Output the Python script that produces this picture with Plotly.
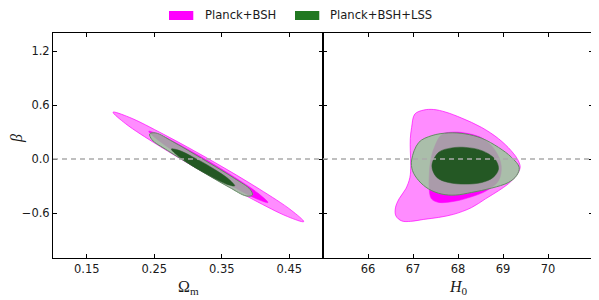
import plotly.graph_objects as go

# ---------------- data (contour boundaries) ----------------
# Left panel: Omega_m vs beta
OM_BSH95_X = [0.3354, 0.2640, 0.2129, 0.1890, 0.2076, 0.2551, 0.3250, 0.3964, 0.4476, 0.4714, 0.4529, 0.4053, 0.3354]
OM_BSH95_Y = [-0.020, 0.274, 0.464, 0.520, 0.392, 0.156, -0.156, -0.450, -0.640, -0.696, -0.569, -0.332, -0.020]
OM_BSH68_X = [0.3341, 0.2985, 0.2618, 0.2419, 0.2573, 0.2916, 0.3264, 0.3621, 0.3987, 0.4185, 0.4031, 0.3690, 0.3341]
OM_BSH68_Y = [-0.040, 0.114, 0.258, 0.308, 0.200, 0.027, -0.136, -0.290, -0.434, -0.484, -0.376, -0.203, -0.040]
OM_LSS95_X = [0.3236, 0.2776, 0.2523, 0.2433, 0.2465, 0.2698, 0.3151, 0.3610, 0.3864, 0.3954, 0.3921, 0.3689, 0.3236]
OM_LSS95_Y = [-0.009, 0.192, 0.289, 0.279, 0.215, 0.094, -0.114, -0.314, -0.411, -0.401, -0.338, -0.216, -0.009]
OM_LSS68_X = [0.3254, 0.3064, 0.2868, 0.2754, 0.2830, 0.3006, 0.3192, 0.3382, 0.3579, 0.3692, 0.3618, 0.3440, 0.3254]
OM_LSS68_Y = [-0.052, 0.026, 0.096, 0.111, 0.046, -0.049, -0.134, -0.212, -0.282, -0.298, -0.232, -0.137, -0.052]

# Right panel: H0 vs beta
H0_BSH95_X = [67.46, 67.72, 68.08, 68.52, 68.90, 69.18, 69.34, 69.38, 69.29, 69.12, 68.90, 68.61, 68.30, 67.90,
              67.57, 67.24, 66.95, 66.75, 66.62, 66.61, 66.69, 66.84, 66.93, 66.95, 66.94, 66.94, 66.97, 67.04,
              67.24, 67.46]
H0_BSH95_Y = [0.550, 0.522, 0.455, 0.352, 0.226, 0.093, -0.019, -0.097, -0.186, -0.275, -0.353, -0.443, -0.540,
              -0.615, -0.649, -0.671, -0.693, -0.688, -0.632, -0.543, -0.443, -0.331, -0.208, -0.075, 0.093, 0.226,
              0.352, 0.499, 0.544, 0.550]
H0_BSH68_X = [67.90, 68.23, 68.56, 68.83, 68.96, 68.90, 68.63, 68.30, 67.92, 67.57, 67.41, 67.36, 67.36, 67.39,
              67.48, 67.64, 67.90]
H0_BSH68_Y = [0.299, 0.282, 0.226, 0.093, -0.075, -0.242, -0.353, -0.420, -0.470, -0.482, -0.443, -0.331, -0.186,
              -0.019, 0.137, 0.271, 0.299]
H0_LSS95_X = [67.79, 68.16, 68.53, 68.90, 69.19, 69.36, 69.30, 69.12, 68.75, 68.30, 67.94, 67.64, 67.35, 67.13,
              66.99, 66.97, 67.13, 67.42, 67.79]
H0_LSS95_Y = [0.290, 0.279, 0.230, 0.129, 0.018, -0.094, -0.186, -0.261, -0.323, -0.372, -0.401, -0.390, -0.334,
              -0.242, -0.130, -0.011, 0.185, 0.260, 0.290]
H0_LSS68_X = [67.86, 68.16, 68.53, 68.82, 68.90, 68.78, 68.53, 68.16, 67.79, 67.53, 67.42, 67.57, 67.86]
H0_LSS68_Y = [0.123, 0.129, 0.093, 0.0, -0.111, -0.205, -0.261, -0.279, -0.261, -0.205, -0.075, 0.074, 0.123]

SERIES = ["Planck+BSH", "Planck+BSH+LSS"]
OM_TICKS = [0.15, 0.25, 0.35, 0.45]
OM_TICK_LABELS = ["0.15", "0.25", "0.35", "0.45"]
H0_TICKS = [66, 67, 68, 69, 70]
H0_TICK_LABELS = ["66", "67", "68", "69", "70"]
BETA_TICKS = [-0.6, 0.0, 0.6, 1.2]
BETA_TICK_LABELS = ["\u22120.6", "0.0", "0.6", "1.2"]
OM_RANGE = [0.10, 0.50]
H0_RANGE = [65, 71]
BETA_RANGE = [-1.1, 1.4]
BETA_REF = 0.0

# ---------------- styles ----------------
C_BSH95 = "rgba(255,0,255,0.45)"
C_BSH95_LINE = "rgba(255,0,255,0.85)"
C_BSH68 = "rgb(255,0,255)"
C_LSS95 = "rgba(141,207,141,0.75)"
C_LSS95_LINE = "rgb(100,140,100)"
C_LSS68 = "rgb(36,88,36)"
LEG_GREEN = "rgb(33,120,33)"

fig = go.Figure()


def add_region(x, y, fill, line, lw, xa, ya):
    fig.add_trace(go.Scatter(
        x=x, y=y, mode="lines", fill="toself", fillcolor=fill,
        line=dict(color=line, width=lw, shape="spline", smoothing=1.0),
        xaxis=xa, yaxis=ya, showlegend=False, hoverinfo="skip"))


# left panel
add_region(OM_BSH95_X, OM_BSH95_Y, C_BSH95, C_BSH95_LINE, 0.8, "x", "y")
add_region(OM_BSH68_X, OM_BSH68_Y, C_BSH68, C_BSH68, 0.5, "x", "y")
add_region(OM_LSS95_X, OM_LSS95_Y, C_LSS95, C_LSS95_LINE, 1.0, "x", "y")
add_region(OM_LSS68_X, OM_LSS68_Y, C_LSS68, C_LSS68, 0.5, "x", "y")
# right panel
add_region(H0_BSH95_X, H0_BSH95_Y, C_BSH95, C_BSH95_LINE, 0.8, "x2", "y2")
add_region(H0_BSH68_X, H0_BSH68_Y, C_BSH68, C_BSH68, 0.5, "x2", "y2")
add_region(H0_LSS95_X, H0_LSS95_Y, C_LSS95, C_LSS95_LINE, 1.0, "x2", "y2")
add_region(H0_LSS68_X, H0_LSS68_Y, C_LSS68, C_LSS68, 0.5, "x2", "y2")

tickfont = dict(family="DejaVu Sans", size=11.5, color="#1a1a1a")
common = dict(showgrid=False, zeroline=False, showline=True, linecolor="black", linewidth=1,
              mirror="allticks", ticks="inside", ticklen=4, tickwidth=1, tickcolor="black",
              tickfont=tickfont)

# the page body adds an 8px margin, so the figure is 8px smaller than the window
fig.update_layout(
    width=591, height=292,
    margin=dict(l=45, r=6, t=25, b=42),
    paper_bgcolor="white", plot_bgcolor="white",
    showlegend=False,
    xaxis=dict(domain=[0, 0.5], range=OM_RANGE, tickvals=OM_TICKS, ticktext=OM_TICK_LABELS, anchor="y", **common),
    yaxis=dict(domain=[0, 1], range=BETA_RANGE, tickvals=BETA_TICKS, ticktext=BETA_TICK_LABELS, anchor="x", **common),
    xaxis2=dict(domain=[0.5, 1.0], range=H0_RANGE, tickvals=H0_TICKS, ticktext=H0_TICK_LABELS, anchor="y2", **common),
    yaxis2=dict(domain=[0, 1], range=BETA_RANGE, tickvals=BETA_TICKS, showticklabels=False, anchor="x2", **common),
)

# dashed reference line at beta = 0 in both panels
for xr, yr in (("x domain", "y"), ("x2 domain", "y2")):
    fig.add_shape(type="line", xref=xr, yref=yr, x0=0, x1=1, y0=BETA_REF, y1=BETA_REF,
                  line=dict(color="rgb(170,170,170)", width=1.4, dash="5px,4px"), layer="above")

# axis titles
serif = "Liberation Serif"
fig.add_annotation(xref="paper", yref="paper", x=0.25, y=-0.129, text="\u03a9<sub>m</sub>", showarrow=False,
                   font=dict(family=serif, size=16, color="#1a1a1a"), xanchor="center", yanchor="middle")
fig.add_annotation(xref="paper", yref="paper", x=0.75, y=-0.129, text="<i>H</i><sub>0</sub>", showarrow=False,
                   font=dict(family=serif, size=16, color="#1a1a1a"), xanchor="center", yanchor="middle")
fig.add_annotation(xref="paper", yref="paper", x=-0.068, y=0.53, text="<i>\u03b2</i>", showarrow=False,
                   textangle=-90, font=dict(family=serif, size=16, color="#1a1a1a"),
                   xanchor="center", yanchor="middle")

# legend (swatches + labels above the panels)
leg = [(SERIES[0], "rgb(255,0,255)", 0.2148, 0.2598, 0.2772),
       (SERIES[1], LEG_GREEN, 0.4481, 0.4931, 0.5098)]
for name, col, x0, x1, xt in leg:
    fig.add_shape(type="rect", xref="paper", yref="paper", x0=x0, x1=x1, y0=1.0578, y1=1.0978,
                  fillcolor=col, line=dict(width=0))
    fig.add_annotation(xref="paper", yref="paper", x=xt, y=1.080, text=name, showarrow=False,
                       font=dict(family="DejaVu Sans", size=11.6, color="#1a1a1a"),
                       xanchor="left", yanchor="middle")

fig.write_html("out.html")
